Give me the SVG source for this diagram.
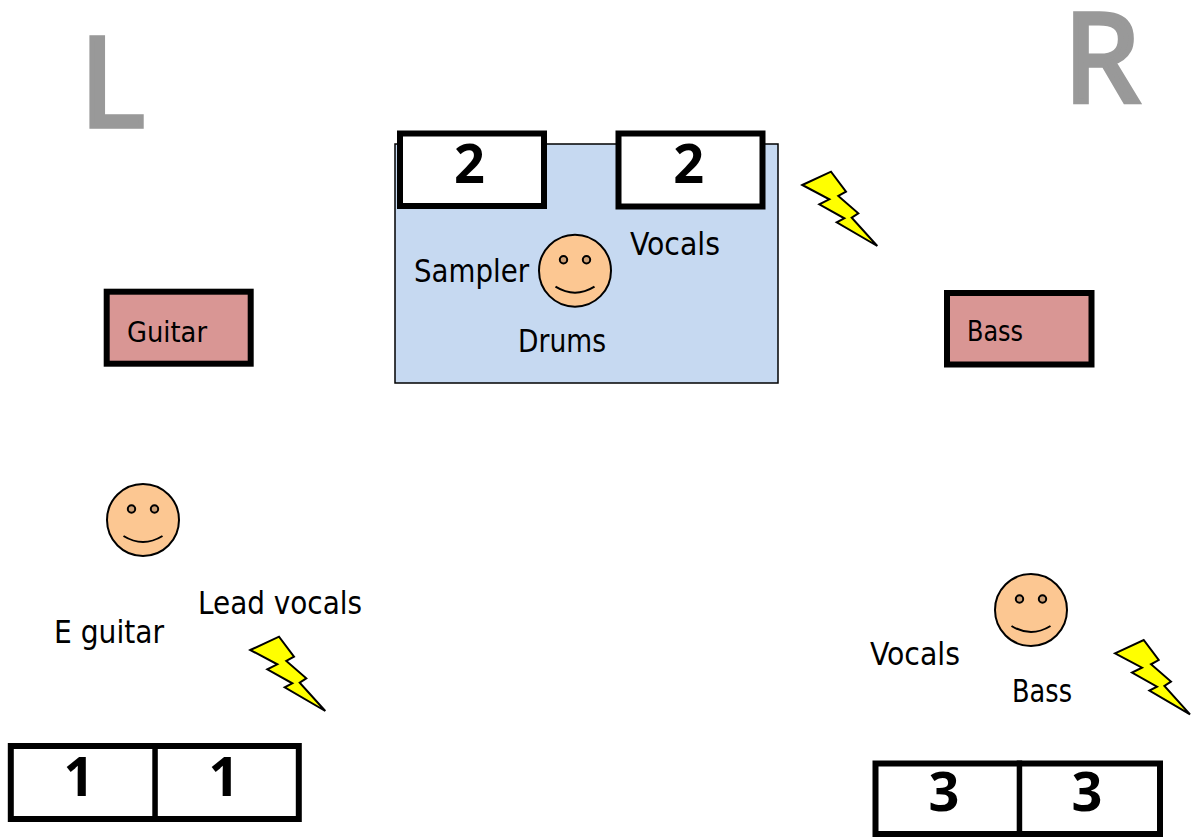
<svg xmlns="http://www.w3.org/2000/svg" xmlns:xlink="http://www.w3.org/1999/xlink" width="1194" height="837" viewBox="0 0 1194 837">
<style>
text{font-family:"DejaVu Sans Condensed","DejaVu Sans",sans-serif;fill:#000}
.lab{font-size:31.300px}
.small{font-size:28.500px}
.num{font-family:"Open Sans","DejaVu Sans",sans-serif;font-size:54px;font-weight:700;text-anchor:middle}
.big{font-family:"Open Sans","DejaVu Sans",sans-serif;font-size:122px;fill:#999;stroke:#999;stroke-width:5.500}
.box{fill:#fff;stroke:#000;stroke-width:6}
.amp{fill:#d99694;stroke:#000;stroke-width:6}
.face{fill:#fcc792;stroke:#000;stroke-width:2}
.eye{fill:#cda076;stroke:#000;stroke-width:2}
.mouth{fill:none;stroke:#000;stroke-width:2}
.bolt{fill:#ff0;stroke:#000;stroke-width:2}
</style>
<defs>
<g id="smiley">
<circle class="face" r="36" cx="0" cy="0"/>
<circle class="eye" cx="-11.500" cy="-11" r="3.700"/>
<circle class="eye" cx="11.500" cy="-11" r="3.700"/>
<path class="mouth" d="M-19.500 16Q0 28 19.500 16"/>
</g>
<polygon id="flash" class="bolt" points="0,0 28.700,-13.300 43.700,6.700 36,11 56,28.300 49.400,32.700 75,61 34.400,37.300 42,33.300 17,19.300 27,14.300"/>
</defs>
<g id="stage"><rect x="395" y="144" width="383" height="239" fill="#c6d9f1" stroke="#000" stroke-width="1.500"/></g>
<g id="label-l"><text class="big" x="80.200" y="125.600">L</text></g>
<g id="label-r"><text class="big" x="1063.900" y="101.600">R</text></g>
<g id="monitor-2a"><rect class="box" x="400" y="133.500" width="144" height="72.500"/><text class="num" x="469.500" y="183">2</text></g>
<g id="monitor-2b"><rect class="box" x="618.500" y="133.500" width="144" height="73"/><text class="num" x="688.800" y="183">2</text></g>
<g id="amp-guitar"><rect class="amp" x="106.700" y="291.700" width="144" height="72"/><text class="small" x="127" y="342" textLength="80" lengthAdjust="spacingAndGlyphs">Guitar</text></g>
<g id="amp-bass"><rect class="amp" x="947" y="293" width="144.500" height="71.500"/><text class="small" x="967" y="341" textLength="56" lengthAdjust="spacingAndGlyphs">Bass</text></g>
<g id="drummer"><use xlink:href="#smiley" x="575" y="270.700"/><text class="lab" x="414" y="282" textLength="115" lengthAdjust="spacingAndGlyphs">Sampler</text><text class="lab" x="630" y="255" textLength="90" lengthAdjust="spacingAndGlyphs">Vocals</text><text class="lab" x="518" y="352" textLength="88" lengthAdjust="spacingAndGlyphs">Drums</text></g>
<g id="guitarist"><use xlink:href="#smiley" x="143" y="520"/><text class="lab" x="54" y="643" textLength="110" lengthAdjust="spacingAndGlyphs">E guitar</text><text class="lab" x="198" y="614" textLength="164" lengthAdjust="spacingAndGlyphs">Lead vocals</text></g>
<g id="bassist"><use xlink:href="#smiley" x="1031" y="610"/><text class="lab" x="870" y="665" textLength="90" lengthAdjust="spacingAndGlyphs">Vocals</text><text class="lab" x="1012" y="702" textLength="60" lengthAdjust="spacingAndGlyphs">Bass</text></g>
<g id="bolt-top"><use xlink:href="#flash" x="802.300" y="185"/></g>
<g id="bolt-left"><use xlink:href="#flash" x="250.300" y="650"/></g>
<g id="bolt-right"><use xlink:href="#flash" x="1115" y="653.300"/></g>
<g id="monitor-1"><rect class="box" x="10.800" y="746" width="288" height="73"/><rect x="152.300" y="743" width="5.500" height="79"/><text class="num" x="79" y="796">1</text><text class="num" x="224" y="796">1</text></g>
<g id="monitor-3"><rect class="box" x="875.500" y="763.500" width="284.500" height="70.500"/><rect x="1016.700" y="760.500" width="5.500" height="76"/><text class="num" x="944" y="811">3</text><text class="num" x="1087" y="811">3</text></g>
</svg>
